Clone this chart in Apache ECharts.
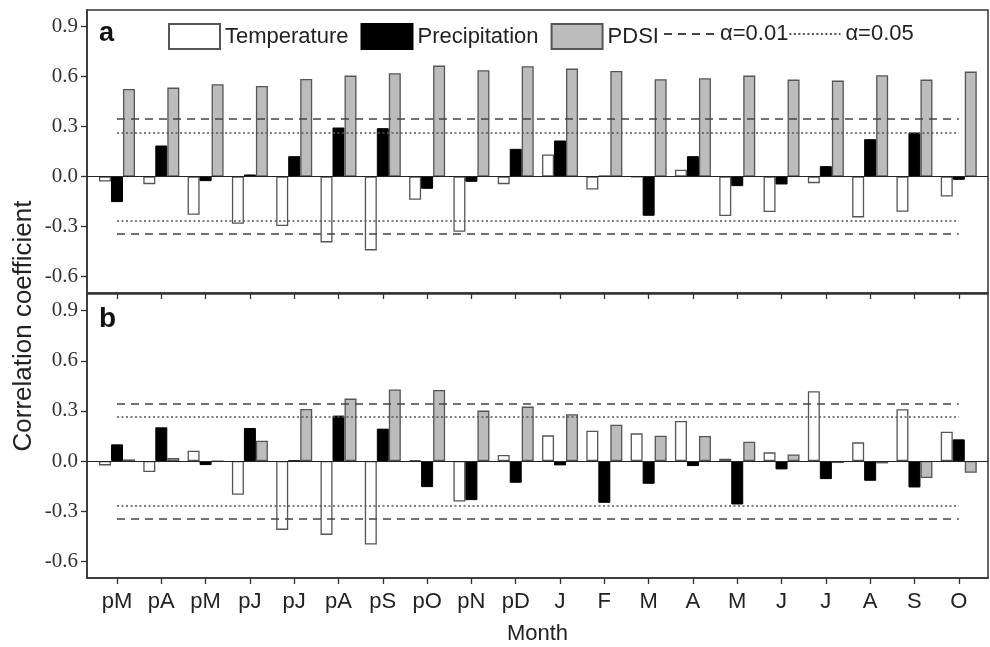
<!DOCTYPE html>
<html>
<head>
<meta charset="utf-8">
<script src="https://cdn.jsdelivr.net/npm/echarts@6/dist/echarts.min.js"></script>
<style>
html, body { margin: 0; padding: 0; background: #fff; }
#chart { width: 990px; height: 647px; }
</style>
</head>
<body>
<div id="chart"></div>
<script>
// 月份（p = 上一年）
var months = ['pM', 'pA', 'pM', 'pJ', 'pJ', 'pA', 'pS', 'pO', 'pN', 'pD', 'J', 'F', 'M', 'A', 'M', 'J', 'J', 'A', 'S', 'O'];

// 图 a
var tempA = [-0.03, -0.046, -0.23, -0.284, -0.298, -0.396, -0.444, -0.14, -0.332, -0.046, 0.132, -0.078, -0.005, 0.04, -0.238, -0.214, -0.04, -0.246, -0.212, -0.12];
var precA = [-0.154, 0.186, -0.028, 0.012, 0.122, 0.294, 0.29, -0.074, -0.032, 0.166, 0.216, 0.003, -0.236, 0.122, -0.058, -0.048, 0.062, 0.224, 0.264, -0.02];
var pdsiA = [0.526, 0.534, 0.554, 0.544, 0.586, 0.606, 0.62, 0.666, 0.638, 0.662, 0.648, 0.634, 0.584, 0.59, 0.606, 0.582, 0.576, 0.608, 0.582, 0.63];

// 图 b
var tempB = [-0.026, -0.066, 0.062, -0.202, -0.412, -0.442, -0.5, 0.006, -0.242, 0.036, 0.154, 0.182, 0.166, 0.24, 0.014, 0.052, 0.418, 0.112, 0.31, 0.176];
var precB = [0.1, 0.202, -0.024, 0.198, 0.002, 0.272, 0.194, -0.156, -0.234, -0.13, -0.026, -0.25, -0.136, -0.03, -0.26, -0.05, -0.108, -0.118, -0.158, 0.13];
var pdsiB = [0.01, 0.018, 0, 0.122, 0.312, 0.374, 0.428, 0.426, 0.302, 0.326, 0.28, 0.218, 0.152, 0.15, 0.116, 0.04, -0.012, -0.014, -0.102, -0.07];

// 显著性水平
var alpha01 = 0.345;
var alpha05 = 0.265;

// 刻度
var yTicks = [-0.6, -0.3, 0, 0.3, 0.6, 0.9];
var monthTicks = months.map(function (m, i) { return i; });

var sans = 'Liberation Sans';
var serif = 'Liberation Serif';

var chart = echarts.init(document.getElementById('chart'));

function pairs(arr) {
    return arr.map(function (v, i) { return [i, v]; });
}

function threshold(v) {
    var last = months.length - 1;
    return [
        [{ coord: [0, v] }, { coord: [last, v] }],
        [{ coord: [0, -v] }, { coord: [last, -v] }]
    ];
}

function panelSeries(idx, t, p, d) {
    return [
        {
            name: 'Temperature', type: 'bar', xAxisIndex: idx, yAxisIndex: idx,
            barWidth: 12, barGap: '0%',
            itemStyle: { color: '#fff', borderColor: '#555', borderWidth: 1.3 },
            data: pairs(t),
            markLine: {
                silent: true, symbol: ['none', 'none'], label: { show: false },
                lineStyle: { color: '#222', width: 1.2, type: 'solid' },
                data: [{ yAxis: 0 }]
            }
        },
        {
            name: 'Precipitation', type: 'bar', xAxisIndex: idx, yAxisIndex: idx,
            barWidth: 12, barGap: '0%',
            itemStyle: { color: '#000', borderColor: '#000', borderWidth: 1 },
            data: pairs(p)
        },
        {
            name: 'PDSI', type: 'bar', xAxisIndex: idx, yAxisIndex: idx,
            barWidth: 12, barGap: '0%',
            itemStyle: { color: '#bcbcbc', borderColor: '#555', borderWidth: 1.3 },
            data: pairs(d)
        },
        {
            name: 'α=0.01', type: 'line', xAxisIndex: idx, yAxisIndex: idx,
            symbol: 'none', data: [],
            itemStyle: { color: 'rgba(0,0,0,0)' },
            lineStyle: { color: '#444', width: 1.5, type: [8, 6] },
            markLine: {
                silent: true, symbol: ['none', 'none'], label: { show: false },
                lineStyle: { color: '#444', width: 1.5, type: [8, 6] },
                data: threshold(alpha01)
            }
        },
        {
            name: 'α=0.05', type: 'line', xAxisIndex: idx, yAxisIndex: idx,
            symbol: 'none', data: [],
            itemStyle: { color: 'rgba(0,0,0,0)' },
            lineStyle: { color: '#555', width: 1.5, type: [2, 2.5] },
            markLine: {
                silent: true, symbol: ['none', 'none'], label: { show: false },
                lineStyle: { color: '#555', width: 1.5, type: [2, 2.5] },
                data: threshold(alpha05)
            }
        }
    ];
}

function xAxisOf(idx, showLabel) {
    return {
        type: 'value', gridIndex: idx, min: -0.677, max: 19.66,
        splitLine: { show: false },
        axisLine: { show: true, onZero: false, lineStyle: { color: '#333', width: 1.5 } },
        axisTick: { show: true, inside: false, length: 6, customValues: monthTicks, lineStyle: { color: '#333', width: 1.3 } },
        axisLabel: {
            show: showLabel, customValues: monthTicks, margin: 13,
            fontFamily: sans, fontSize: 22, color: '#222',
            formatter: function (v) { return months[Math.round(v)]; }
        },
        name: showLabel ? 'Month' : '',
        nameLocation: 'middle', nameGap: 45,
        nameTextStyle: { fontFamily: sans, fontSize: 22, color: '#222' }
    };
}

function yAxisOf(idx) {
    return {
        type: 'value', gridIndex: idx, min: -0.7, max: 1.0,
        splitLine: { show: false },
        axisLine: { show: true, onZero: false, lineStyle: { color: '#333', width: 1.5 } },
        axisTick: { show: true, inside: false, length: 6, customValues: yTicks, lineStyle: { color: '#333', width: 1.3 } },
        axisLabel: {
            customValues: yTicks, margin: 9,
            fontFamily: serif, fontSize: 21, color: '#333',
            formatter: function (v) { return v.toFixed(1); }
        }
    };
}

var noMarker = { color: 'rgba(0,0,0,0)', borderWidth: 0 };

chart.setOption({
    backgroundColor: '#fff',
    animation: false,
    legend: [
        {
            data: ['Temperature', 'Precipitation', 'PDSI'],
            left: 168, top: 23, padding: 0,
            icon: 'rect', itemWidth: 51, itemHeight: 25, itemGap: 12,
            selectedMode: false,
            textStyle: { fontFamily: sans, fontSize: 22, color: '#222' }
        },
        {
            data: [
                { name: 'α=0.01', itemStyle: noMarker },
                { name: 'α=0.05', itemStyle: noMarker }
            ],
            left: 663, top: 23, padding: 0,
            itemWidth: 51, itemHeight: 25, itemGap: 0,
            selectedMode: false,
            textStyle: { fontFamily: sans, fontSize: 22, color: '#222' }
        }
    ],
    grid: [
        { left: 87, right: 2, top: 10, height: 283, show: true, borderColor: '#333', borderWidth: 1.5 },
        { left: 87, right: 2, top: 294, height: 284, show: true, borderColor: '#333', borderWidth: 1.5 }
    ],
    xAxis: [xAxisOf(0, false), xAxisOf(1, true)],
    yAxis: [yAxisOf(0), yAxisOf(1)],
    graphic: [
        { type: 'text', left: 99, top: 20, style: { text: 'a', fontFamily: sans, fontSize: 27, fontWeight: 'bold', fill: '#111' } },
        { type: 'text', left: 99, top: 305, style: { text: 'b', fontFamily: sans, fontSize: 28, fontWeight: 'bold', fill: '#111' } },
        {
            type: 'text', x: 24, y: 326, rotation: Math.PI / 2,
            style: { text: 'Correlation coefficient', fontFamily: sans, fontSize: 26, fill: '#222', align: 'center', verticalAlign: 'middle' }
        }
    ],
    series: panelSeries(0, tempA, precA, pdsiA).concat(panelSeries(1, tempB, precB, pdsiB))
});
</script>
</body>
</html>
